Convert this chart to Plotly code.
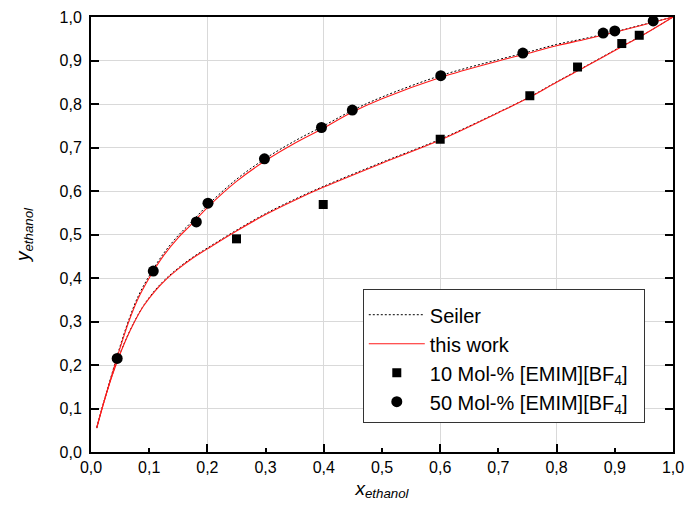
import plotly.graph_objects as go

# ---- data ----
# experimental points
x_10 = [0.250, 0.399, 0.600, 0.754, 0.836, 0.912, 0.942]
y_10 = [0.490, 0.569, 0.719, 0.819, 0.885, 0.939, 0.958]

x_50 = [0.045, 0.107, 0.181, 0.201, 0.298, 0.396, 0.449, 0.601, 0.742, 0.880, 0.900, 0.966]
y_50 = [0.215, 0.416, 0.529, 0.572, 0.674, 0.746, 0.786, 0.865, 0.917, 0.963, 0.968, 0.991]

# model curves ("this work")
xw_50 = [0.010, 0.019, 0.030, 0.041, 0.053, 0.065, 0.080, 0.100, 0.125, 0.150, 0.170, 0.200,
         0.250, 0.300, 0.350, 0.400, 0.450, 0.500, 0.600, 0.700, 0.750, 0.800, 0.850, 0.900,
         0.950, 1.000]
yw_50 = [0.057, 0.100, 0.150, 0.200, 0.252, 0.300, 0.350, 0.400, 0.452, 0.493, 0.520, 0.562,
         0.622, 0.670, 0.710, 0.745, 0.782, 0.812, 0.861, 0.899, 0.916, 0.934, 0.949, 0.965,
         0.982, 1.000]

xw_10 = [0.010, 0.020, 0.030, 0.045, 0.060, 0.075, 0.090, 0.110, 0.130, 0.150, 0.175, 0.200,
         0.250, 0.300, 0.350, 0.400, 0.500, 0.600, 0.700, 0.756, 0.800, 0.850, 0.900, 0.950,
         1.000]
yw_10 = [0.055, 0.105, 0.150, 0.208, 0.258, 0.300, 0.335, 0.370, 0.398, 0.421, 0.446, 0.467,
         0.508, 0.546, 0.579, 0.609, 0.664, 0.717, 0.780, 0.817, 0.850, 0.886, 0.923, 0.960,
         1.000]

# model curves (Seiler)
xs_50 = xw_50
ys_50 = [0.057, 0.101, 0.152, 0.203, 0.256, 0.304, 0.355, 0.405, 0.457, 0.498, 0.525, 0.567,
         0.627, 0.675, 0.715, 0.750, 0.786, 0.816, 0.865, 0.902, 0.919, 0.937, 0.951, 0.966,
         0.983, 1.000]
xs_10 = xw_10
ys_10 = [0.055, 0.105, 0.151, 0.209, 0.259, 0.301, 0.336, 0.372, 0.400, 0.423, 0.448, 0.469,
         0.510, 0.548, 0.581, 0.611, 0.666, 0.719, 0.781, 0.818, 0.851, 0.887, 0.924, 0.960,
         1.000]

x_ticks = [0.0, 0.1, 0.2, 0.3, 0.4, 0.5, 0.6, 0.7, 0.8, 0.9, 1.0]
y_ticks = [0.0, 0.1, 0.2, 0.3, 0.4, 0.5, 0.6, 0.7, 0.8, 0.9, 1.0]
x_major = [0.2, 0.4, 0.6, 0.8]

FONT = "Liberation Sans, Arial, sans-serif"
RED = "#ff1a1a"

fig = go.Figure()

# Seiler (dashed black)
fig.add_trace(go.Scatter(x=xs_50, y=ys_50, mode="lines", name="Seiler",
                         line=dict(color="black", width=1, dash="2px,2px", shape="spline"),
                         legendrank=1, showlegend=True))
fig.add_trace(go.Scatter(x=xs_10, y=ys_10, mode="lines", name="Seiler",
                         line=dict(color="black", width=1, dash="2px,2px", shape="spline"),
                         showlegend=False))
# this work (red)
fig.add_trace(go.Scatter(x=xw_50, y=yw_50, mode="lines", name="this work",
                         line=dict(color=RED, width=1.1, shape="spline"),
                         legendrank=2, showlegend=True))
fig.add_trace(go.Scatter(x=xw_10, y=yw_10, mode="lines", name="this work",
                         line=dict(color=RED, width=1.1, shape="spline"),
                         showlegend=False))
# experiments
fig.add_trace(go.Scatter(x=x_10, y=y_10, mode="markers",
                         name="10 Mol-% [EMIM][BF<sub>4</sub>]",
                         marker=dict(symbol="square", size=9, color="black"),
                         legendrank=3))
fig.add_trace(go.Scatter(x=x_50, y=y_50, mode="markers",
                         name="50 Mol-% [EMIM][BF<sub>4</sub>]&nbsp;&nbsp;",
                         marker=dict(symbol="circle", size=11, color="black"),
                         legendrank=4))

# overlay axis carrying the major x ticks and vertical grid
fig.add_trace(go.Scatter(x=[None], y=[None], xaxis="x2", showlegend=False,
                         hoverinfo="skip"))

fig.update_layout(
    width=699, height=520,
    margin=dict(l=91, r=26, t=17, b=68),
    paper_bgcolor="white", plot_bgcolor="white",
    separators=", ",
    font=dict(family=FONT, size=16, color="black"),
    xaxis=dict(range=[0, 1], tickvals=x_ticks, tickformat=".1f",
               ticks="inside", ticklen=4, tickwidth=1.5, tickcolor="black",
               showgrid=False, zeroline=False, automargin=False,
               showline=True, linewidth=2, linecolor="black", mirror=True,
               tickfont=dict(size=16), ticklabelstandoff=0,
               title=dict(text="<i>x<sub>ethanol</sub></i>", font=dict(size=19), standoff=6)),
    xaxis2=dict(range=[0, 1], overlaying="x", side="bottom", tickvals=x_major,
                ticks="inside", ticklen=8, tickwidth=1.5, tickcolor="black",
                showticklabels=False, showgrid=True, gridcolor="#d9d9d9", gridwidth=1,
                zeroline=False, showline=False, automargin=False),
    yaxis=dict(range=[0, 1], tickvals=y_ticks, tickformat=".1f",
               ticks="inside", ticklen=8, tickwidth=1.5, tickcolor="black",
               showgrid=True, gridcolor="#d9d9d9", gridwidth=1, zeroline=False,
               showline=True, linewidth=2, linecolor="black", mirror="ticks",
               automargin=False,
               tickfont=dict(size=16), ticklabelstandoff=4,
               title=dict(text="<i>y<sub>ethanol</sub></i>", font=dict(size=19), standoff=25)),
    legend=dict(x=0.467, y=0.3747, xanchor="left", yanchor="top",
                bgcolor="white", bordercolor="#333333", borderwidth=1,
                font=dict(family=FONT, size=20, color="black"),
                title=dict(text="&nbsp;", font=dict(size=4)),
                itemwidth=56, tracegroupgap=0),
)

fig.write_html("out.html", post_script="document.body.style.margin='0';",
               config={"displayModeBar": False})
